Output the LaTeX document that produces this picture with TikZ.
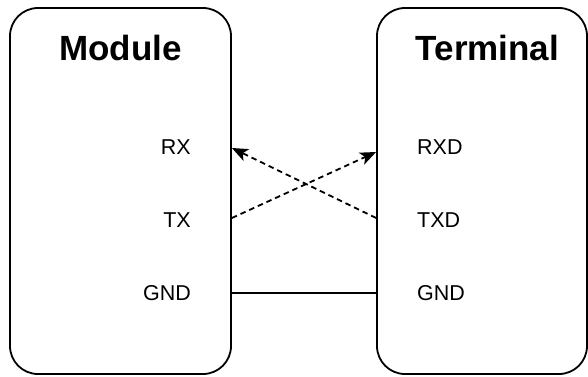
\documentclass[tikz,border=0pt]{standalone}
\usepackage{fontspec}
\setmainfont{Liberation Sans}
\usetikzlibrary{arrows.meta}
\begin{document}
\begin{tikzpicture}[x=1pt,y=1pt,
  box/.style={draw, line width=1.8pt, rounded corners=28pt, inner sep=0pt},
  title/.style={font=\fontsize{35}{40}\selectfont\bfseries, inner sep=0pt},
  pin/.style={font=\fontsize{21.5}{24}\selectfont, inner sep=0pt},
  sig/.style={line width=1.8pt, dash pattern=on 5.5pt off 4pt,
              -{Stealth[length=16pt,width=13pt,inset=4pt]}},
  gndwire/.style={line width=1.8pt}]
\useasboundingbox (0,0) rectangle (588,376);

% the two devices
\node[box, minimum width=221pt, minimum height=366pt] (mod) at (120.5,185) {};
\node[box, minimum width=210pt, minimum height=366pt] (term) at (482,185) {};

% headings
\node[title, anchor=base] (tmod) at (120.5,316) {Module};
\node[title, anchor=base] (tterm) at (487.5,316) {Terminal};

% pin names
\node[pin, anchor=base east] (lrx)  at (191,222) {RX};
\node[pin, anchor=base east] (ltx)  at (191,149) {TX};
\node[pin, anchor=base east] (lgnd) at (191,76)  {GND};
\node[pin, anchor=base west] (rrxd) at (417,222) {RXD};
\node[pin, anchor=base west] (rtxd) at (417,149) {TXD};
\node[pin, anchor=base west] (rgnd) at (417,76)  {GND};

% rows of the pins
\coordinate (rxrowL) at (0,228);
\coordinate (rxrowR) at (0,224);
\coordinate (txrow)  at (0,158);
\coordinate (gndrow) at (0,83);

% ports on the box edges
\coordinate (mRX)  at (mod.east |- rxrowL);
\coordinate (mTX)  at (mod.east |- txrow);
\coordinate (mGND) at (mod.east |- gndrow);
\coordinate (tRXD) at (term.west |- rxrowR);
\coordinate (tTXD) at (term.west |- txrow);
\coordinate (tGND) at (term.west |- gndrow);

% crossed serial lines and common ground
\draw[sig] (mTX) -- (tRXD);
\draw[sig] (tTXD) -- (mRX);
\draw[gndwire] (mGND) -- (tGND);
\end{tikzpicture}
\end{document}
